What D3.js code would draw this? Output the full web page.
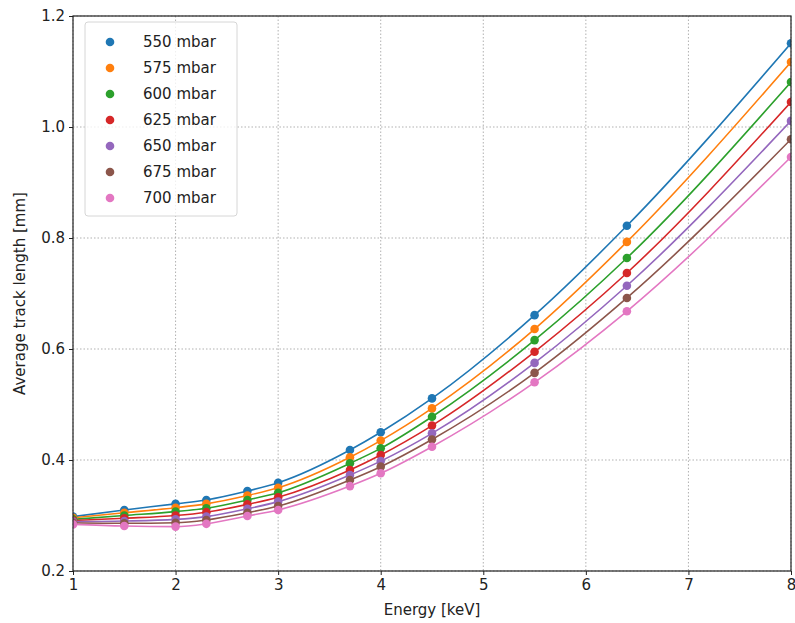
<!DOCTYPE html>
<html>
<head>
<meta charset="utf-8">
<script src="https://cdn.jsdelivr.net/npm/d3@7"></script>
<style>
  body { margin: 0; background: #fff; }
  svg { font-family: "DejaVu Sans", sans-serif; }
</style>
</head>
<body>
<svg id="chart" width="795" height="623"></svg>
<script>
/* ---------------------------------------------------
   Data
--------------------------------------------------- */

const energies = [1, 1.5, 2, 2.3, 2.7, 3, 3.7, 4, 4.5, 5.5, 6.4, 8];

const pressures = ["550 mbar", "575 mbar", "600 mbar", "625 mbar", "650 mbar", "675 mbar", "700 mbar"];

const colours = ["#1f77b4", "#ff7f0e", "#2ca02c", "#d62728", "#9467bd", "#8c564b", "#e377c2"];

const len550 = [0.298, 0.310, 0.321, 0.328, 0.344, 0.359, 0.418, 0.450, 0.511, 0.661, 0.822, 1.151];
const len575 = [0.296, 0.305, 0.314, 0.321, 0.336, 0.350, 0.405, 0.435, 0.493, 0.636, 0.793, 1.117];
const len600 = [0.293, 0.300, 0.307, 0.313, 0.328, 0.341, 0.394, 0.421, 0.478, 0.616, 0.764, 1.081];
const len625 = [0.291, 0.295, 0.300, 0.306, 0.320, 0.333, 0.382, 0.409, 0.462, 0.595, 0.737, 1.045];
const len650 = [0.289, 0.290, 0.293, 0.298, 0.312, 0.325, 0.373, 0.398, 0.448, 0.575, 0.714, 1.011];
const len675 = [0.287, 0.286, 0.287, 0.292, 0.305, 0.317, 0.364, 0.388, 0.437, 0.557, 0.692, 0.978];
const len700 = [0.284, 0.281, 0.280, 0.285, 0.299, 0.310, 0.353, 0.376, 0.424, 0.540, 0.668, 0.946];

const allSeries = [len550, len575, len600, len625, len650, len675, len700];

const xTicks = [1, 2, 3, 4, 5, 6, 7, 8];
const yTicks = [0.2, 0.4, 0.6, 0.8, 1.0, 1.2];

/* ---------------------------------------------------
   Setup
--------------------------------------------------- */

const svg = d3.select("#chart");
const margin = { top: 16, right: 4, bottom: 52, left: 73 };
const width = 795 - margin.left - margin.right;
const height = 623 - margin.top - margin.bottom;

const g = svg.append("g").attr("transform", `translate(${margin.left},${margin.top})`);

const x = d3.scaleLinear().domain([1, 8]).range([0, width]);
const y = d3.scaleLinear().domain([0.2, 1.2]).range([height, 0]);

svg.append("defs").append("clipPath").attr("id", "plotclip")
  .append("rect").attr("width", width).attr("height", height);

/* grid */
g.append("g")
  .selectAll("line")
  .data(xTicks)
  .join("line")
  .attr("x1", d => x(d)).attr("x2", d => x(d))
  .attr("y1", 0).attr("y2", height)
  .attr("stroke", "#a8a8a8")
  .attr("stroke-width", 0.9)
  .attr("stroke-dasharray", "1.5,2");

g.append("g")
  .selectAll("line")
  .data(yTicks)
  .join("line")
  .attr("x1", 0).attr("x2", width)
  .attr("y1", d => y(d)).attr("y2", d => y(d))
  .attr("stroke", "#a8a8a8")
  .attr("stroke-width", 0.9)
  .attr("stroke-dasharray", "1.5,2");

/* ---------------------------------------------------
   Lines + points
--------------------------------------------------- */

const line = d3.line()
  .x((d, i) => x(energies[i]))
  .y(d => y(d))
  .curve(d3.curveMonotoneX);

const plot = g.append("g").attr("clip-path", "url(#plotclip)");

plot.selectAll("path.fit")
  .data(allSeries)
  .join("path")
  .attr("class", "fit")
  .attr("d", line)
  .attr("fill", "none")
  .attr("stroke", (d, i) => colours[i])
  .attr("stroke-width", 1.6);

allSeries.forEach((series, s) => {
  plot.append("g")
    .selectAll("circle")
    .data(series)
    .join("circle")
    .attr("cx", (d, i) => x(energies[i]))
    .attr("cy", d => y(d))
    .attr("r", 4.3)
    .attr("fill", colours[s]);
});

/* ---------------------------------------------------
   Axes
--------------------------------------------------- */

const xAxis = g.append("g")
  .attr("transform", `translate(0,${height})`)
  .call(d3.axisBottom(x).tickValues(xTicks).tickFormat(d3.format("d")).tickSize(4).tickPadding(4));

const yAxis = g.append("g")
  .call(d3.axisLeft(y).tickValues(yTicks).tickFormat(d3.format(".1f")).tickSize(4).tickPadding(4));

[xAxis, yAxis].forEach(a => {
  a.select(".domain").remove();
  a.selectAll("text").attr("font-size", 15).attr("fill", "#222").attr("font-family", "DejaVu Sans");
  a.selectAll("line").attr("stroke", "#222");
});

/* frame */
g.append("rect")
  .attr("width", width).attr("height", height)
  .attr("fill", "none")
  .attr("stroke", "#222")
  .attr("stroke-width", 1.2);

svg.append("text")
  .attr("x", margin.left + width / 2)
  .attr("y", 615)
  .attr("text-anchor", "middle")
  .attr("font-size", 15)
  .attr("fill", "#222")
  .text("Energy [keV]");

svg.append("text")
  .attr("transform", `translate(25,${margin.top + height / 2}) rotate(-90)`)
  .attr("text-anchor", "middle")
  .attr("font-size", 15)
  .attr("fill", "#222")
  .text("Average track length [mm]");

/* ---------------------------------------------------
   Legend
--------------------------------------------------- */

const legend = g.append("g").attr("transform", "translate(12,6)");

legend.append("rect")
  .attr("width", 152).attr("height", 194)
  .attr("rx", 3)
  .attr("fill", "#fff")
  .attr("fill-opacity", 0.8)
  .attr("stroke", "#d6d6d6");

const rows = legend.selectAll("g.row")
  .data(pressures)
  .join("g")
  .attr("class", "row")
  .attr("transform", (d, i) => `translate(0,${20 + i * 26})`);

rows.append("circle")
  .attr("cx", 25).attr("cy", 0).attr("r", 4.3)
  .attr("fill", (d, i) => colours[i]);

rows.append("text")
  .attr("x", 58).attr("y", 5)
  .attr("font-size", 15)
  .attr("fill", "#222")
  .text(d => d);
</script>
</body>
</html>
